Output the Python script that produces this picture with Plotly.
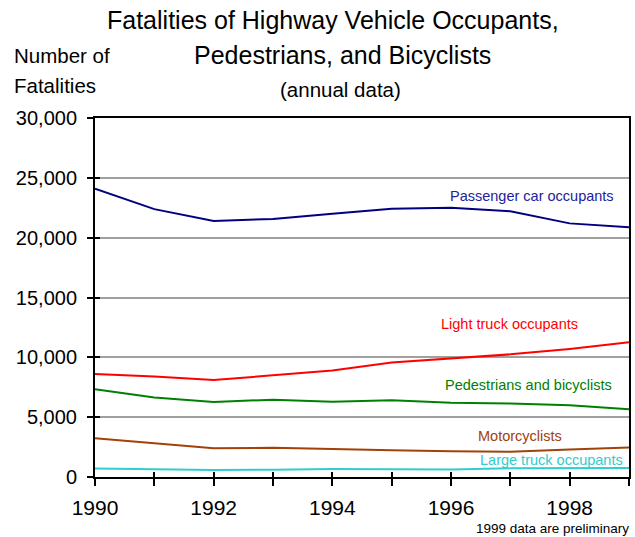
import plotly.graph_objects as go

years = [1990, 1991, 1992, 1993, 1994, 1995, 1996, 1997, 1998, 1999]
passenger_car = [24092, 22385, 21387, 21566, 21997, 22423, 22505, 22199, 21194, 20862]
light_truck = [8601, 8391, 8098, 8511, 8904, 9568, 9932, 10249, 10705, 11265]
ped_bike = [7341, 6644, 6272, 6465, 6291, 6417, 6214, 6135, 5988, 5656]
motorcyclists = [3244, 2806, 2395, 2449, 2320, 2227, 2161, 2116, 2294, 2472]
large_truck = [705, 661, 585, 605, 670, 648, 621, 723, 742, 759]

series_names = ["Passenger car occupants", "Light truck occupants",
                "Pedestrians and bicyclists", "Motorcyclists", "Large truck occupants"]
series_values = [passenger_car, light_truck, ped_bike, motorcyclists, large_truck]
line_colors = ["#000080", "#ff0000", "#008000", "#a0420a", "#33cccc"]
text_colors = ["#22229a", "#ff0000", "#008000", "#a0420a", "#33cccc"]
label_x = [1997.37, 1996.99, 1997.31, 1997.16, 1997.69]
label_y = [23500, 12750, 7650, 3440, 1450]

x_tick_vals = years
x_tick_text = [str(y) if y % 2 == 0 and y < 1999 else "" for y in years]
y_tick_vals = [0, 5000, 10000, 15000, 20000, 25000, 30000]
y_tick_text = ["0", "5,000", "10,000", "15,000", "20,000", "25,000", "30,000"]

FONT = "Liberation Sans, Arial, sans-serif"

L, R, T, B = 95, 4, 118, 60
W, H = 635, 537
PW = W - L - R
PH = H - T - B


def py(p):
    return (H - B - p) / PH


def px(p):
    return (p - L) / PW


fig = go.Figure()
annotations = []
for name, vals, lc, tc, ax, ay in zip(series_names, series_values, line_colors,
                                      text_colors, label_x, label_y):
    fig.add_trace(go.Scatter(x=years, y=vals, mode="lines", name=name,
                             line=dict(color=lc, width=2), showlegend=False,
                             hoverinfo="skip"))
    annotations.append(dict(x=ax, y=ay, xref="x", yref="y", text=name, showarrow=False,
                            xanchor="center", yanchor="middle",
                            font=dict(family=FONT, size=14.5, color=tc)))

# dummy trace for the overlay axes that carry the inner half of the crossing ticks
fig.add_trace(go.Scatter(x=[None], y=[None], xaxis="x2", yaxis="y2",
                         showlegend=False, hoverinfo="skip"))

annotations += [
    dict(xref="paper", yref="paper", x=px(334), y=py(20),
         text="Fatalities of Highway Vehicle Occupants,", showarrow=False,
         font=dict(family=FONT, size=25, color="black"), xanchor="center", yanchor="middle"),
    dict(xref="paper", yref="paper", x=px(343), y=py(55),
         text="Pedestrians, and Bicyclists", showarrow=False,
         font=dict(family=FONT, size=25, color="black"), xanchor="center", yanchor="middle"),
    dict(xref="paper", yref="paper", x=px(341), y=py(89),
         text="(annual data)", showarrow=False,
         font=dict(family=FONT, size=20.5, color="black"), xanchor="center", yanchor="middle"),
    dict(xref="paper", yref="paper", x=px(12), y=py(56),
         text="Number of", showarrow=False,
         font=dict(family=FONT, size=20.5, color="black"), xanchor="left", yanchor="middle"),
    dict(xref="paper", yref="paper", x=px(12), y=py(85),
         text="Fatalities", showarrow=False,
         font=dict(family=FONT, size=20.5, color="black"), xanchor="left", yanchor="middle"),
    dict(xref="paper", yref="paper", x=px(633), y=py(528),
         text="1999 data are preliminary", showarrow=False,
         font=dict(family=FONT, size=13.5, color="black"), xanchor="right", yanchor="middle"),
]

fig.update_layout(
    width=W, height=H,
    margin=dict(l=L, r=R, t=T, b=B, pad=0),
    paper_bgcolor="white", plot_bgcolor="white",
    font=dict(family=FONT, color="black"),
    annotations=annotations,
    xaxis=dict(range=[1990, 1999], tickvals=x_tick_vals, ticktext=x_tick_text,
               ticks="outside", ticklen=7, tickwidth=2, tickcolor="black",
               showline=True, linecolor="black", linewidth=2, mirror=True,
               showgrid=False, zeroline=False, ticklabelstandoff=4,
               tickfont=dict(family=FONT, size=21, color="black")),
    yaxis=dict(range=[0, 30000], tickvals=y_tick_vals, ticktext=y_tick_text,
               ticks="outside", ticklen=6, tickwidth=2, tickcolor="black",
               showline=True, linecolor="black", linewidth=2, mirror=True,
               showgrid=True, gridcolor="#a0a0a0", gridwidth=2, zeroline=False,
               ticklabelstandoff=6,
               tickfont=dict(family=FONT, size=20, color="black")),
    xaxis2=dict(range=[1990, 1999], tickvals=x_tick_vals, overlaying="x", anchor="y2",
                side="bottom", ticks="inside", ticklen=5, tickwidth=2, tickcolor="black",
                showticklabels=False, showline=False, showgrid=False, zeroline=False),
    yaxis2=dict(range=[0, 30000], tickvals=y_tick_vals, overlaying="y", anchor="x2",
                side="left", ticks="inside", ticklen=5, tickwidth=2, tickcolor="black",
                showticklabels=False, showline=False, showgrid=False, zeroline=False),
)

fig.write_html("out.html", config={"displayModeBar": False},
               post_script="document.body.style.margin='0px';")
